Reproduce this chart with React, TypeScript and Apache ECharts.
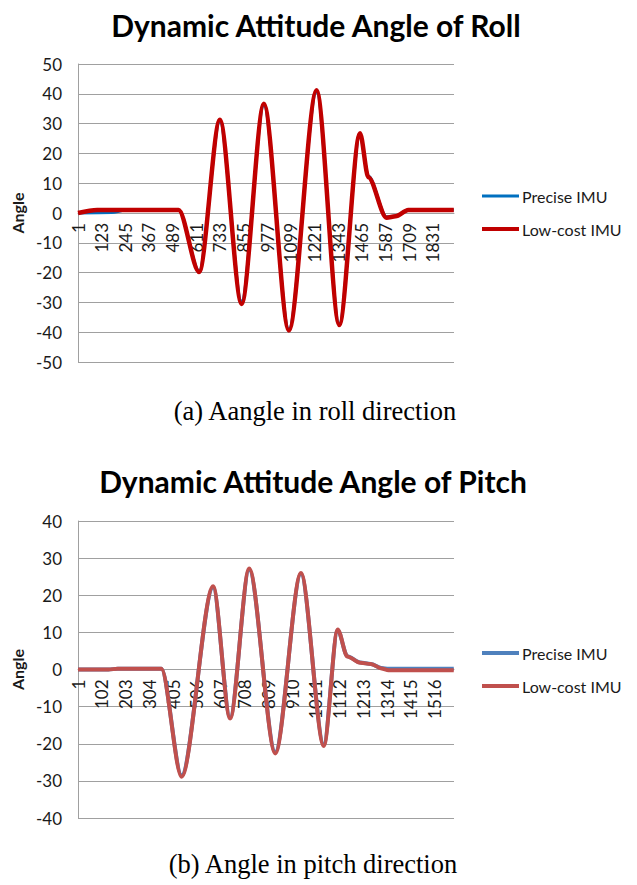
import React, { useEffect, useRef } from 'react';
import * as echarts from 'echarts';

// ---------- data ----------
const seriesNames = ['Precise IMU', 'Low-cost IMU'];

// Roll chart: sample index -> angle
const rollTickStep = 122;
const rollSampleCount = 1940;
const rollPreciseX = [1, 175, 250, 520, 626, 733, 845, 960, 1089, 1232, 1349, 1456, 1499, 1593, 1640, 1705, 1940];
const rollPreciseY = [0, 0.2, 1, 1, -19.4, 30.6, -29.6, 36.1, -38.9, 40.6, -37.1, 26.2, 12.4, -1.3, -1.0, 1.0, 1.0];
const rollLowCostX = [1, 100, 520, 626, 733, 845, 960, 1089, 1232, 1349, 1456, 1499, 1593, 1640, 1705, 1940];
const rollLowCostY = [0, 1, 1, -19.8, 31.3, -30.5, 36.7, -39.4, 41.2, -37.6, 26.8, 12, -1.6, -1.1, 1, 1];
const rollYRange = [-50, 50];

// Pitch chart
const pitchTickStep = 101;
const pitchSampleCount = 1597;
const pitchPreciseX = [1, 130, 170, 355, 441, 575, 647, 728, 839, 948, 1045, 1104, 1145, 1200, 1245, 1290, 1320, 1597];
const pitchPreciseY = [0, 0, 0.2, 0.2, -28.5, 22.1, -12.9, 26.9, -22.2, 25.7, -20.2, 10.6, 3.6, 1.9, 1.5, 0.4, 0.2, 0.2];
const pitchLowCostX = [1, 130, 170, 355, 441, 575, 647, 728, 839, 948, 1045, 1104, 1145, 1200, 1245, 1290, 1320, 1597];
const pitchLowCostY = [0, 0, 0.2, 0.2, -28.9, 22.4, -13.2, 27.2, -22.6, 26, -20.6, 10.8, 3.5, 1.8, 1.5, 0.3, -0.2, -0.2];
const pitchYRange = [-40, 40];

const titles = ['Dynamic Attitude Angle of Roll', 'Dynamic Attitude Angle of Pitch'];
const captions = ['(a) Aangle in roll direction', '(b) Angle in pitch direction'];
const yAxisName = 'Angle';

// ---------- styling ----------
const FONT = 'Lato, "Noto Sans", sans-serif';
const SERIF = '"Liberation Serif", "DejaVu Serif", serif';
const GRAY = '#A0A0A0';
const TEXT = '#1a1a1a';
const rollColors = ['#0070C0', '#C00000'];
const pitchColors = ['#4F81BD', '#C0504D'];

const toPairs = (xs: number[], ys: number[]) => xs.map((x, i) => [x - 1, ys[i]]);

function makeXAxis(gridIndex: number, step: number, count: number, offset: number) {
  return {
    type: 'value',
    gridIndex,
    position: 'bottom',
    offset,
    min: 0,
    max: count,
    interval: step,
    axisLine: { show: true, onZero: false, lineStyle: { color: GRAY, width: 1 } },
    axisTick: { show: false },
    splitLine: { show: false },
    axisLabel: {
      rotate: 90,
      margin: 10,
      fontSize: 17,
      fontFamily: FONT,
      color: TEXT,
      showMaxLabel: false,
      showMinLabel: true,
      formatter: (v: number) => String(Math.round(v) + 1),
    },
  };
}

function makeYAxis(gridIndex: number, range: number[]) {
  return {
    type: 'value',
    gridIndex,
    min: range[0],
    max: range[1],
    interval: 10,
    name: yAxisName,
    nameLocation: 'middle',
    nameGap: 52,
    nameTextStyle: { fontSize: 16, fontWeight: 'bold', fontFamily: FONT, color: TEXT },
    axisLine: { show: true, onZero: false, lineStyle: { color: GRAY, width: 1 } },
    axisTick: { show: false },
    splitLine: { show: true, lineStyle: { color: GRAY, width: 1 } },
    axisLabel: { margin: 16, fontSize: 17, fontFamily: FONT, color: TEXT },
  };
}

function lineSeries(name: string, axis: number, data: number[][], color: string, width: number) {
  return {
    type: 'line',
    name,
    xAxisIndex: axis,
    yAxisIndex: axis,
    data,
    showSymbol: false,
    symbol: 'none',
    smooth: 0.3,
    smoothMonotone: 'x',
    lineStyle: { color, width },
    itemStyle: { color },
    emphasis: { disabled: true },
  };
}

function legendGraphics(yTop: number, colors: string[], widths: number[]) {
  const out: any[] = [];
  seriesNames.forEach((n, i) => {
    const y = yTop + i * 33;
    out.push({
      type: 'line',
      shape: { x1: 482, y1: y, x2: 519, y2: y },
      style: { stroke: colors[i], lineWidth: widths[i] },
    });
    out.push({
      type: 'text',
      x: 522,
      y,
      style: { text: n, fontSize: 16, fontFamily: FONT, fill: TEXT, align: 'left', verticalAlign: 'middle' },
    });
  });
  return out;
}

function textEl(text: string, x: number, y: number, size: number, family: string, weight: string) {
  return {
    type: 'text',
    x,
    y,
    style: { text, fontSize: size, fontFamily: family, fontWeight: weight, fill: '#000', align: 'center', verticalAlign: 'middle' },
  };
}

const GRID1 = { left: 78, top: 64, width: 376, height: 298 };
const GRID2 = { left: 78, top: 521, width: 376, height: 297 };

export default function App() {
  const ref = useRef<HTMLDivElement>(null);
  useEffect(() => {
    if (!ref.current) return;
    const chart = echarts.init(ref.current, undefined, { renderer: 'svg' });
    const option = {
      animation: false,
      backgroundColor: '#fff',
      grid: [GRID1, GRID2],
      xAxis: [
        makeXAxis(0, rollTickStep, rollSampleCount, -GRID1.height / 2),
        makeXAxis(1, pitchTickStep, pitchSampleCount, -GRID2.height / 2),
      ],
      yAxis: [makeYAxis(0, rollYRange), makeYAxis(1, pitchYRange)],
      series: [
        lineSeries(seriesNames[0], 0, toPairs(rollPreciseX, rollPreciseY), rollColors[0], 3),
        lineSeries(seriesNames[1], 0, toPairs(rollLowCostX, rollLowCostY), rollColors[1], 4.5),
        lineSeries(seriesNames[0], 1, toPairs(pitchPreciseX, pitchPreciseY), pitchColors[0], 4),
        lineSeries(seriesNames[1], 1, toPairs(pitchLowCostX, pitchLowCostY), pitchColors[1], 4),
      ],
      graphic: [
        textEl(titles[0], 316, 25, 30, FONT, 'bold'),
        textEl(titles[1], 313, 481, 30, FONT, 'bold'),
        textEl(captions[0], 315, 411, 26.5, SERIF, 'normal'),
        textEl(captions[1], 313, 864, 26.5, SERIF, 'normal'),
        ...legendGraphics(196, rollColors, [3, 4]),
        ...legendGraphics(653, pitchColors, [4, 4]),
      ],
    };
    chart.setOption(option as any);
    return () => chart.dispose();
  }, []);
  return (
    <div
      ref={ref}
      style={{ position: 'absolute', left: 0, top: 0, width: 637, height: 885, background: '#fff' }}
    />
  );
}
